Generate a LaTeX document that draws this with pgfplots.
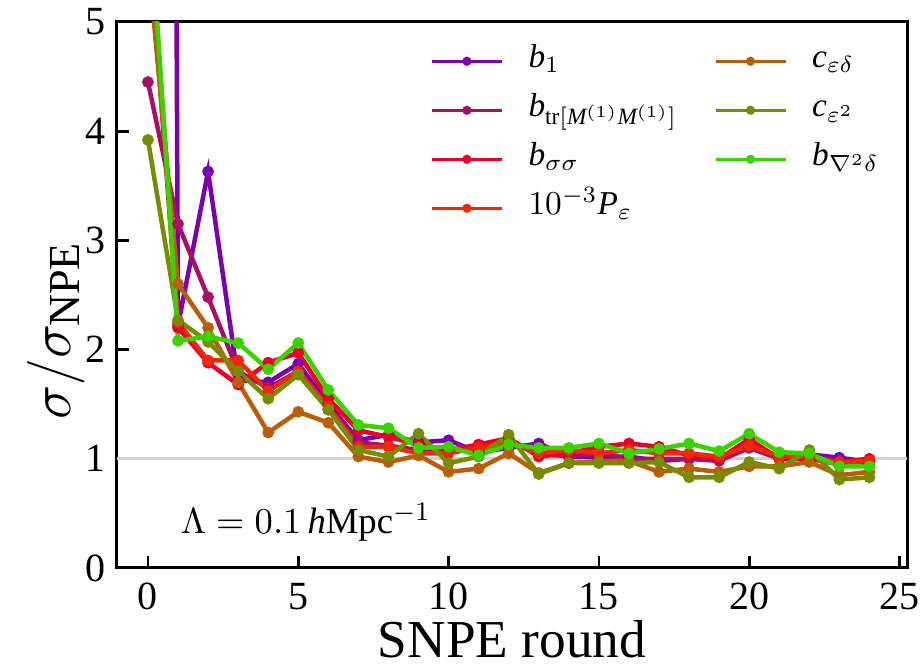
\documentclass[border=0pt]{standalone}
\usepackage{amsmath}
\usepackage{fontspec}
\setmainfont{Liberation Serif}
\usepackage{pgfplots}
\pgfplotsset{compat=1.18}

\definecolor{cbone}{RGB}{122,0,178}
\definecolor{cbtr}{RGB}{168,16,104}
\definecolor{cbss}{RGB}{232,0,40}
\definecolor{cpe}{RGB}{240,40,10}
\definecolor{ced}{RGB}{185,95,10}
\definecolor{cee}{RGB}{120,140,0}
\definecolor{cnab}{RGB}{60,210,0}

\pgfplotstableread{
x  bone  btr   bss   pe    ced   cee   bnab
0  60    4.45  5.90  6.10  5.60  3.92  6.30
1  2.22  3.15  2.20  2.25  2.60  2.27  2.08
2  3.63  2.48  1.88  1.90  2.20  2.07  2.12
3  1.72  1.80  1.68  1.90  1.70  1.80  2.06
4  1.70  1.65  1.88  1.62  1.24  1.55  1.82
5  1.87  1.80  1.97  1.80  1.43  1.77  2.06
6  1.50  1.45  1.55  1.48  1.33  1.45  1.63
7  1.17  1.15  1.26  1.11  1.02  1.08  1.31
8  1.22  1.12  1.20  1.11  0.97  1.02  1.28
9  1.15  1.08  1.13  1.05  1.03  1.23  1.10
10 1.17  1.10  1.08  1.05  0.88  0.96  1.11
11 1.06  1.05  1.13  1.10  0.91  1.02  1.03
12 1.10  1.15  1.19  1.15  1.05  1.22  1.13
13 1.14  1.05  1.02  1.05  0.87  0.86  1.10
14 1.02  1.02  1.05  1.08  0.96  0.96  1.10
15 1.02  1.05  1.11  1.05  0.98  0.96  1.14
16 1.02  1.00  1.14  1.08  0.98  0.96  1.05
17 0.98  1.00  1.11  1.05  0.88  0.97  1.09
18 1.00  1.00  1.03  1.05  0.91  0.83  1.14
19 1.00  0.98  1.00  1.02  0.88  0.83  1.07
20 1.13  1.10  1.18  1.12  0.93  0.97  1.23
21 1.02  1.00  1.00  1.02  0.93  0.91  1.06
22 1.04  1.00  1.00  1.02  0.97  1.08  1.05
23 1.01  0.95  0.97  0.97  0.85  0.81  0.93
24 0.97  0.95  1.00  0.98  0.88  0.83  0.93
}\rounds

\begin{document}
\begin{tikzpicture}
\begin{axis}[
  scale only axis,
  width=237pt, height=163.8pt,
  xmin=-1.03, xmax=25.25, ymin=0, ymax=5,
  xtick={0,5,...,25}, ytick={0,1,...,5},
  xtick pos=bottom, ytick pos=left,
  tick align=inside,
  major tick length=3.5pt,
  every tick/.style={black, line width=0.8pt},
  axis line style={line width=0.9pt},
  /pgf/number format/assume math mode=true,
  tick label style={font=\fontsize{12}{14}\selectfont},
  xticklabel style={yshift=-1pt},
  xlabel={SNPE round},
  ylabel={$\sigma/\sigma_{\textrm{NPE}}$},
  xlabel style={font=\fontsize{16}{19}\selectfont, inner sep=0pt,
      at={(axis description cs:0.5,0)}, anchor=center, yshift=-21.5pt},
  ylabel style={font=\fontsize{19}{23}\selectfont, inner sep=0pt,
      at={(axis description cs:-0.077,0.435)}, anchor=center},
  every axis plot/.append style={line width=1.35pt, mark=*, mark size=1.05pt},
  legend columns=2,
  legend image code/.code={\draw[mark repeat=2,mark phase=2,#1]
      plot coordinates {(0pt,0pt) (10.5pt,0pt) (21pt,0pt)};},
  legend style={draw=none, fill=none,
      at={(axis description cs:0.383,0.972)}, anchor=north west,
      font=\fontsize{10}{12}\selectfont,
      nodes={inner sep=0pt, text height=7pt, text depth=3pt},
      row sep=4.7pt,
      /tikz/every odd column/.append style={column sep=7.5pt},
      /tikz/every even column/.append style={column sep=11pt},
      cells={anchor=west}},
]
\coordinate (sw) at (rel axis cs:0,0);
\coordinate (ne) at (rel axis cs:1,1);

% reference level sigma = sigma_NPE
\addplot[gray!35, line width=1pt, mark=none, forget plot] coordinates {(-1.03,1) (25.25,1)};

\addplot[cbone, forget plot] table[x=x, y=bone] {\rounds};
\addplot[cbtr,  forget plot] table[x=x, y=btr]  {\rounds};
\addplot[cbss,  forget plot] table[x=x, y=bss]  {\rounds};
\addplot[cpe,   forget plot] table[x=x, y=pe]   {\rounds};
\addplot[ced,   forget plot] table[x=x, y=ced]  {\rounds};
\addplot[cee,   forget plot] table[x=x, y=cee]  {\rounds};
\addplot[cnab,  forget plot] table[x=x, y=bnab] {\rounds};

% legend, filled row by row
\addlegendimage{cbone, line width=1pt, mark=*, mark size=0.85pt}
\addlegendentry{$\mathit{b}_1$}
\addlegendimage{ced, line width=1pt, mark=*, mark size=0.85pt}
\addlegendentry{$\mathit{c}_{\varepsilon\delta}$}
\addlegendimage{cbtr, line width=1pt, mark=*, mark size=0.85pt}
\addlegendentry{$\mathit{b}_{\mathrm{tr}[\mathit{M}^{(1)}\mathit{M}^{(1)}]}$}
\addlegendimage{cee, line width=1pt, mark=*, mark size=0.85pt}
\addlegendentry{$\mathit{c}_{\varepsilon^2}$}
\addlegendimage{cbss, line width=1pt, mark=*, mark size=0.85pt}
\addlegendentry{$\mathit{b}_{\sigma\sigma}$}
\addlegendimage{cnab, line width=1pt, mark=*, mark size=0.85pt}
\addlegendentry{$\mathit{b}_{\nabla^2\delta}$}
\addlegendimage{cpe, line width=1pt, mark=*, mark size=0.85pt}
\addlegendentry{$10^{-3}\mathit{P}_{\varepsilon}$}

\node[anchor=west, font=\fontsize{11}{13}\selectfont] at (axis cs:0.7,0.42)
  {$\Lambda = 0.1\,\mathit{h}\mathrm{Mpc}^{-1}$};
\end{axis}
\pgfresetboundingbox
\path[use as bounding box] ([shift={(-35.1pt,-30.9pt)}]sw) rectangle ([shift={(3.9pt,6.6pt)}]ne);
\end{tikzpicture}
\end{document}
